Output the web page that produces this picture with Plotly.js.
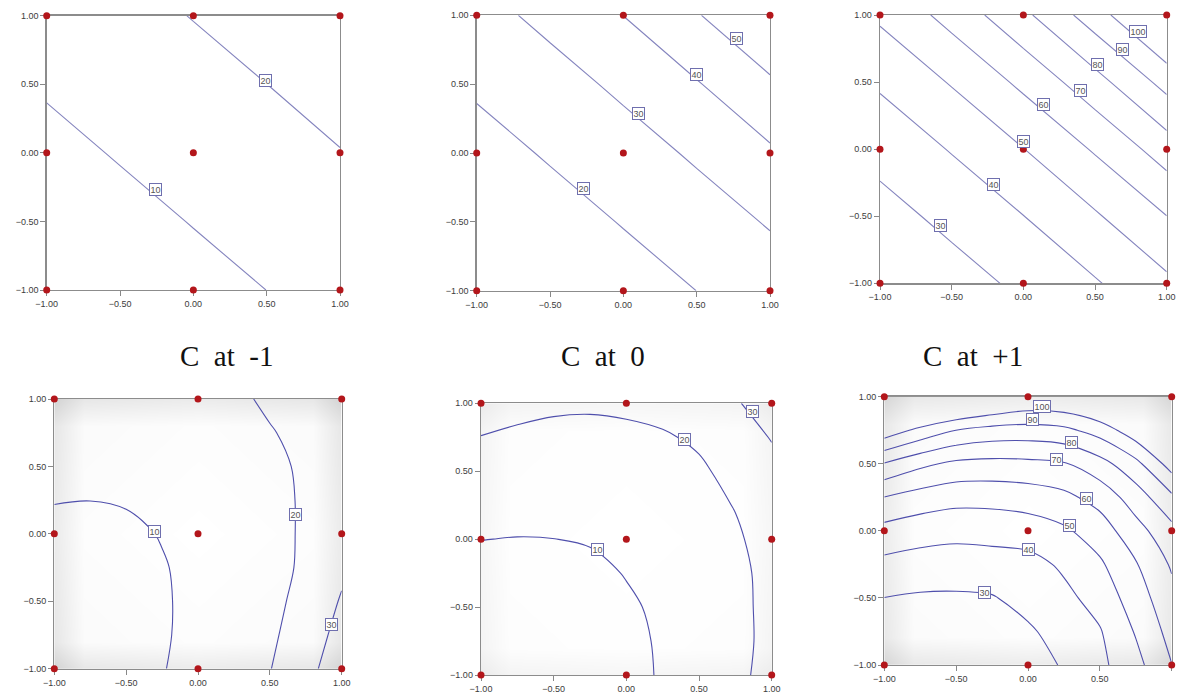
<!DOCTYPE html>
<html>
<head>
<meta charset="utf-8">
<script src="https://cdn.plot.ly/plotly-3.0.1.min.js"></script>
<style>
  html, body { margin: 0; padding: 0; background: #fff; }
  #chart { width: 1180px; height: 696px; }
</style>
</head>
<body>
<div id="chart"></div>
<script>
// coded levels of factors A (x) and B (y) where the response was read
const GRID5 = [-1, -0.5, 0, 0.5, 1];
const GRID9 = [-1, -0.75, -0.5, -0.25, 0, 0.25, 0.5, 0.75, 1];
const TICKS = [-1, -0.5, 0, 0.5, 1];

// 3x3 factorial design points
const designA = [-1, 0, 1, -1, 0, 1, -1, 0, 1];
const designB = [-1, -1, -1, 0, 0, 0, 1, 1, 1];

// predicted response, rows = B (-1 .. 1), cols = A (-1 .. 1)
// top row: linear model (5x5)
const linCm1 = [
  [5.31, 6.56, 8.11, 10.02, 12.38],
  [6.69, 8.26, 10.21, 12.61, 15.58],
  [8.42, 10.40, 12.85, 15.87, 19.61],
  [10.59, 13.09, 16.17, 19.97, 24.68],
  [13.33, 16.47, 20.35, 25.14, 31.06],
];
const linC0 = [
  [10.79, 13.26, 16.30, 20.03, 24.61],
  [13.52, 16.61, 20.41, 25.08, 30.81],
  [16.93, 20.80, 25.56, 31.41, 38.59],
  [21.20, 26.05, 32.01, 39.33, 48.33],
  [26.55, 32.62, 40.08, 49.26, 60.52],
];
const linCp1 = [
  [21.24, 26.04, 31.91, 39.11, 47.94],
  [26.54, 32.53, 39.86, 48.86, 59.89],
  [33.15, 40.63, 49.80, 61.04, 74.81],
  [41.41, 50.76, 62.21, 76.25, 93.46],
  [51.73, 63.41, 77.71, 95.25, 116.75],
];
// bottom row: quadratic model (9x9)
const quadCm1 = [
  [6.4, 7.0, 8.0, 9.6, 12.86, 16.27, 19.67, 27.04, 35.5],
  [6.3, 6.8, 7.6, 9.2, 12.19, 15.50, 18.81, 23.5, 34.0],
  [6.2, 6.5, 7.3, 9.15, 12.06, 15.18, 18.30, 22.0, 30.9],
  [6.9, 7.2, 8.0, 9.45, 12.2, 15.09, 17.98, 21.0, 28.0],
  [8.0, 8.0, 8.4, 10.41, 12.97, 15.53, 18.09, 20.8, 26.0],
  [10.3, 10.05, 10.6, 11.8, 13.5, 15.6, 17.9, 20.9, 25.2],
  [12.2, 12.4, 12.9, 13.6, 14.6, 15.9, 17.8, 21.5, 25.5],
  [13.8, 14.0, 14.3, 14.9, 15.8, 17.3, 19.3, 23.0, 26.5],
  [15.0, 15.2, 15.5, 16.0, 16.8, 17.8, 21.8, 24.5, 27.5],
];
const quadC0 = [
  [5.8, 5.8, 5.9, 6.3, 7.2, 10.89, 14.61, 18.33, 22.3],
  [5.9, 5.9, 6.0, 6.5, 7.62, 11.12, 14.62, 18.11, 21.8],
  [6.0, 6.0, 6.3, 7.0, 8.58, 11.81, 15.03, 18.26, 21.8],
  [7.8, 7.2, 7.0, 7.69, 10.44, 13.22, 15.99, 18.76, 21.5],
  [10.1, 9.8, 9.95, 10.73, 12.5, 14.8, 17.0, 19.3, 22.1],
  [13.4, 12.8, 12.6, 13.2, 14.6, 16.5, 18.4, 20.2, 23.4],
  [16.6, 15.8, 15.5, 15.8, 16.75, 18.1, 19.2, 21.6, 26.6],
  [19.85, 18.9, 18.3, 18.35, 18.86, 19.45, 20.8, 24.5, 30.6],
  [23.1, 21.9, 21.1, 20.8, 21.0, 21.8, 23.5, 29.0, 35.0],
];
const quadCp1 = [
  [23.0, 23.5, 24.0, 24.5, 25.2, 31.0, 37.7, 46.9, 59.8],
  [25.5, 24.7, 25.0, 26.0, 28.66, 33.8, 39.3, 50.8, 63.5],
  [29.9, 28.8, 28.67, 29.35, 33.24, 37.5, 43.77, 55.0, 67.1],
  [37.39, 35.86, 35.35, 35.92, 36.6, 41.62, 48.49, 59.2, 71.15],
  [46.68, 44.2, 42.91, 43.52, 44.91, 48.38, 55.07, 66.25, 77.0],
  [59.8, 55.83, 53.44, 53.49, 54.71, 57.6, 63.62, 75.0, 88.0],
  [79.31, 72.27, 67.83, 67.0, 67.61, 69.05, 76.25, 87.06, 104.5],
  [106.4, 97.2, 89.9, 86.36, 85.66, 87.5, 94.17, 106.3, 126.0],
  [140.0, 128.0, 122.0, 116.0, 110.3, 111.0, 117.0, 128.8, 150.0],
];

// relative std error of prediction (grey shading of the quadratic plots)
const SE_A = [-1, -0.8, 0, 0.8, 1];
const SE_B = [-1, -0.8, 0, 0.8, 1];
const seGrid = [
  [1.0, 0.55, 0.45, 0.55, 1.0],
  [0.55, 0.1, 0.05, 0.1, 0.55],
  [0.45, 0.05, 0.0, 0.05, 0.45],
  [0.55, 0.1, 0.05, 0.1, 0.55],
  [1.0, 0.55, 0.45, 0.55, 1.0],
];

// contour levels
const levLinCm1 = [10, 20];
const levLinC0 = [20, 30, 40, 50];
const levLinCp1 = [30, 40, 50, 60, 70, 80, 90, 100];
const levQuadCm1 = [10, 20, 30];
const levQuadC0 = [10, 20, 30];
const levQuadCp1 = [30, 40, 50, 60, 70, 80, 90, 100];

// contour label positions [A, B, text]
const labLinCm1 = [[-0.26, -0.27, "10"], [0.49, 0.53, "20"]];
const labLinC0 = [[-0.27, -0.26, "20"], [0.10, 0.29, "30"], [0.50, 0.57, "40"], [0.77, 0.83, "50"]];
const labLinCp1 = [[-0.58, -0.57, "30"], [-0.21, -0.26, "40"], [0.0, 0.06, "50"], [0.14, 0.33, "60"],
  [0.40, 0.44, "70"], [0.52, 0.63, "80"], [0.69, 0.74, "90"], [0.80, 0.88, "100"]];
const labQuadCm1 = [[-0.30, 0.02, "10"], [0.68, 0.14, "20"], [0.93, -0.67, "30"]];
const labQuadC0 = [[-0.20, -0.075, "10"], [0.40, 0.73, "20"], [0.87, 0.94, "30"]];
const labQuadCp1 = [[-0.30, -0.46, "30"], [0.0, -0.14, "40"], [0.29, 0.04, "50"], [0.41, 0.24, "60"],
  [0.20, 0.53, "70"], [0.30, 0.66, "80"], [0.03, 0.83, "90"], [0.10, 0.93, "100"]];

const captions = ["C at -1", "C at 0", "C at +1"];

// ---- layout geometry (px) ----
const W = 1180, H = 696;
// [left, top, right, bottom] of each plot box
const BOXES = [
  [46.7, 15.7, 340, 290],
  [476.7, 15.3, 770, 290.7],
  [880, 15, 1166.7, 283.3],
  [54.3, 399, 341.7, 668.7],
  [481, 403.3, 771.7, 675],
  [884.3, 396.7, 1171.7, 665],
];
const CAPTION_X = [178, 603, 1025];
const CAPTION_Y = 356;

const panels = [
  { z: linCm1, g: GRID5, lev: levLinCm1, lab: labLinCm1, quad: false },
  { z: linC0, g: GRID5, lev: levLinC0, lab: labLinC0, quad: false },
  { z: linCp1, g: GRID5, lev: levLinCp1, lab: labLinCp1, quad: false },
  { z: quadCm1, g: GRID9, lev: levQuadCm1, lab: labQuadCm1, quad: true, shade: "#d3d3d3" },
  { z: quadC0, g: GRID9, lev: levQuadC0, lab: labQuadC0, quad: true, shade: "#ebebeb" },
  { z: quadCp1, g: GRID9, lev: levQuadCp1, lab: labQuadCp1, quad: true, shade: "#d6d6d6" },
];

const traces = [];
const annotations = [];
const layout = {
  width: W, height: H,
  margin: { l: 0, r: 0, t: 0, b: 0 },
  paper_bgcolor: "#fff",
  plot_bgcolor: "#fff",
  showlegend: false,
  font: { family: "Liberation Sans, Arial, sans-serif" },
};

panels.forEach((p, i) => {
  const n = i === 0 ? "" : String(i + 1);
  const xa = "x" + n, ya = "y" + n;
  const [l, t, r, b] = BOXES[i];

  if (p.quad) {
    traces.push({
      type: "heatmap", x: SE_A, y: SE_B, z: seGrid,
      xaxis: xa, yaxis: ya,
      zmin: 0, zmax: 1, zsmooth: "best",
      colorscale: [[0, "#ffffff"], [1, p.shade]],
      showscale: false, hoverinfo: "skip",
    });
  }

  traces.push({
    type: "contour", x: p.g, y: p.g, z: p.z,
    xaxis: xa, yaxis: ya,
    autocontour: false,
    contours: {
      coloring: "none",
      start: p.lev[0],
      end: p.lev[p.lev.length - 1],
      size: p.lev.length > 1 ? p.lev[1] - p.lev[0] : 10,
      showlabels: false,
    },
    line: { color: p.quad ? "#4f4fac" : "#8585bf", width: 1.1, smoothing: p.quad ? 1 : 0 },
    showscale: false, hoverinfo: "skip",
  });

  traces.push({
    type: "scatter", mode: "markers", x: designA, y: designB,
    xaxis: xa, yaxis: ya, cliponaxis: false,
    marker: { color: "#b3161b", size: 7 },
    hoverinfo: "skip",
  });

  p.lab.forEach(([ax, by, txt]) => {
    annotations.push({
      xref: xa, yref: ya, x: ax, y: by, text: txt,
      showarrow: false,
      font: { size: 9, color: "#555", family: "Liberation Sans, Arial, sans-serif" },
      bgcolor: "#fff", bordercolor: "#6f6fae", borderwidth: 1, borderpad: 0.5,
    });
  });

  const common = {
    range: [-1, 1],
    tickvals: TICKS, tickformat: ".2f",
    ticks: "outside", ticklen: 5, tickwidth: 1, tickcolor: "#888",
    showline: true, mirror: true, linecolor: "#8c8c8c", linewidth: 1.3,
    showgrid: false, zeroline: false,
    tickfont: { size: 9, color: "#3c3c3c" },
    layer: "below traces",
    fixedrange: true,
  };
  layout["xaxis" + n] = Object.assign({}, common, { domain: [l / W, r / W], anchor: ya });
  layout["yaxis" + n] = Object.assign({}, common, { domain: [1 - b / H, 1 - t / H], anchor: xa });
});

captions.forEach((c, i) => {
  annotations.push({
    xref: "paper", yref: "paper",
    x: CAPTION_X[i] / W, y: 1 - CAPTION_Y / H,
    text: c.replace(/ /g, "\u2002"),
    showarrow: false,
    font: { family: "Liberation Serif, Times New Roman, serif", size: 29, color: "#111" },
  });
});

layout.annotations = annotations;

Plotly.newPlot("chart", traces, layout, { displayModeBar: false, staticPlot: true });
</script>
</body>
</html>
